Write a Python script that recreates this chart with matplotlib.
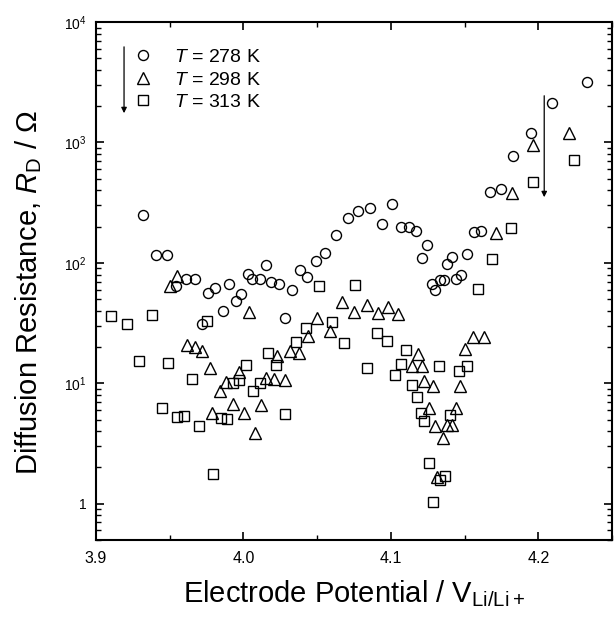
import numpy as np
import matplotlib
matplotlib.use("Agg")
import matplotlib.pyplot as plt
from matplotlib.ticker import FixedLocator, FuncFormatter, MultipleLocator, LogLocator, NullFormatter

plt.rcParams['font.family'] = ['Liberation Sans', 'DejaVu Sans']
plt.rcParams['mathtext.fontset'] = 'custom'
plt.rcParams['mathtext.rm'] = 'Liberation Sans'
plt.rcParams['mathtext.it'] = 'Liberation Sans:italic'
plt.rcParams['mathtext.bf'] = 'Liberation Sans:bold'

# 278 K (circles)
x278 = [3.932, 3.941, 3.948, 3.954, 3.961, 3.967, 3.972, 3.976, 3.981, 3.986,
        3.990, 3.995, 3.998, 4.003, 4.006, 4.011, 4.015, 4.019, 4.024, 4.028,
        4.033, 4.0385, 4.043, 4.049, 4.055, 4.063, 4.071, 4.078, 4.086, 4.094,
        4.101, 4.107, 4.112, 4.117, 4.121, 4.1245, 4.128, 4.130, 4.1336, 4.136,
        4.138, 4.1414, 4.1444, 4.1477, 4.1516, 4.1565, 4.161, 4.167, 4.1745, 4.183,
        4.195, 4.2095, 4.233]
r278 = [250, 117, 117, 64, 74, 74, 31, 56, 62, 40,
        67, 48, 55, 81, 73, 74, 96, 70, 67, 35,
        59, 88, 76, 104, 120, 169, 235, 270, 286, 209,
        310, 197, 197, 185, 109, 141, 67, 59, 72, 72,
        97, 112, 73, 79, 119, 180, 185, 388, 414, 778,
        1188, 2130, 3200]

# 298 K (triangles)
x298 = [3.950, 3.955, 3.962, 3.967, 3.972, 3.977, 3.979, 3.984, 3.988, 3.993,
        3.997, 4.0007, 4.004, 4.008, 4.012, 4.0153, 4.0205, 4.023, 4.028, 4.0318,
        4.038, 4.044, 4.050, 4.059, 4.067, 4.075, 4.0836, 4.0912, 4.0982, 4.1049,
        4.1144, 4.1182, 4.1212, 4.1225, 4.1257, 4.1284, 4.130, 4.131, 4.1351, 4.138,
        4.1414, 4.1442, 4.147, 4.1504, 4.156, 4.163, 4.1714, 4.182, 4.1961, 4.2207]
r298 = [64, 78, 21, 20, 18.6, 13.3, 5.7, 8.7, 10.3, 6.7,
        12.3, 5.7, 39, 3.9, 6.6, 11, 10.8, 16.9, 10.6, 18.6,
        17.8, 24.5, 35, 27, 47, 39, 45, 38, 43, 37.5,
        14.0, 17.5, 14.0, 10.5, 6.2, 9.5, 4.4, 1.67, 3.5, 4.5,
        4.5, 6.2, 9.5, 19.2, 24.4, 24.4, 176, 378, 953, 1208]

# 313 K (squares)
x313 = [3.910, 3.921, 3.929, 3.938, 3.945, 3.949, 3.955, 3.960, 3.965, 3.970,
        3.975, 3.9795, 3.9845, 3.989, 3.993, 3.997, 4.0018, 4.0068, 4.011, 4.0165,
        4.0223, 4.028, 4.0358, 4.0426, 4.0515, 4.060, 4.068, 4.0757, 4.084, 4.0907,
        4.0971, 4.1027, 4.107, 4.1103, 4.114, 4.1176, 4.1201, 4.1223, 4.1261, 4.1286,
        4.1324, 4.133, 4.137, 4.140, 4.146, 4.1516, 4.1592, 4.1689, 4.1813, 4.1966,
        4.2243]
r313 = [36, 31, 15.2, 37, 6.2, 14.8, 5.3, 5.4, 10.9, 4.4,
        33, 1.76, 5.2, 5.1, 10, 10.6, 14.2, 8.7, 10.1, 17.7,
        14.2, 5.6, 22, 28.6, 64, 32, 21.8, 66, 13.3, 26.4,
        22.5, 11.8, 14.5, 18.9, 9.6, 7.7, 5.7, 4.9, 2.19, 1.03,
        14, 1.58, 1.70, 5.5, 12.6, 14.0, 60.6, 107, 193, 470,
        716]

labels = ['$T$ = 278 K', '$T$ = 298 K', '$T$ = 313 K']

fig = plt.figure(figsize=(6.14, 6.17), dpi=100)
ax = fig.add_axes([0.1564, 0.1248, 0.8404, 0.8395])

kw = dict(linestyle='none', markerfacecolor='none', markeredgecolor='black', markeredgewidth=1.0)
ax.plot(x278, r278, marker='o', markersize=7.2, label=labels[0], **kw)
ax.plot(x298, r298, marker='^', markersize=8, label=labels[1], **kw)
ax.plot(x313, r313, marker='s', markersize=6.5, label=labels[2], **kw)

ax.set_yscale('log')
ax.set_xlim(3.9, 4.25)
ax.set_ylim(0.5, 1e4)

ax.xaxis.set_major_locator(FixedLocator([3.9, 4.0, 4.1, 4.2]))
ax.xaxis.set_major_formatter(FuncFormatter(lambda v, p: f'{v:.1f}'))
ax.xaxis.set_minor_locator(MultipleLocator(0.05))
ax.yaxis.set_major_locator(FixedLocator([1, 10, 100, 1000, 10000]))
ax.yaxis.set_major_formatter(FuncFormatter(
    lambda v, p: '1' if abs(v - 1) < 1e-9 else r'$10^{%d}$' % int(round(np.log10(v)))))
ax.yaxis.set_minor_locator(LogLocator(base=10, subs=np.arange(2, 10), numticks=20))
ax.yaxis.set_minor_formatter(NullFormatter())

ax.tick_params(which='both', direction='in', top=True, right=True)
ax.tick_params(which='major', length=6, width=1.2)
ax.tick_params(which='minor', length=3.5, width=1.0)
ax.tick_params(axis='x', pad=8, labelsize=11.5)
ax.tick_params(axis='y', pad=7, labelsize=10)
for s in ax.spines.values():
    s.set_linewidth(1.5)

ax.set_xlabel(r'Electrode Potential / V$_{\mathrm{Li/Li+}}$', fontsize=21, labelpad=9)
ax.set_ylabel(r'Diffusion Resistance, $R_{\mathrm{D}}$ / $\Omega$', fontsize=21, labelpad=14)
ax.yaxis.label.set_y(0.477)

leg = ax.legend(loc='upper left', bbox_to_anchor=(0.042, 0.975), frameon=False,
                fontsize=14, handlelength=1.2, handletextpad=1.0, labelspacing=0.25,
                borderpad=0.2)

# arrows indicating temperature increase
ax.annotate('', xy=(3.919, 1660), xytext=(3.919, 6560),
            arrowprops=dict(arrowstyle='-|>', lw=0.9, color='black', mutation_scale=8))
ax.annotate('', xy=(4.204, 333), xytext=(4.204, 2575),
            arrowprops=dict(arrowstyle='-|>', lw=0.9, color='black', mutation_scale=8))

fig.savefig('out.png', dpi=100)
